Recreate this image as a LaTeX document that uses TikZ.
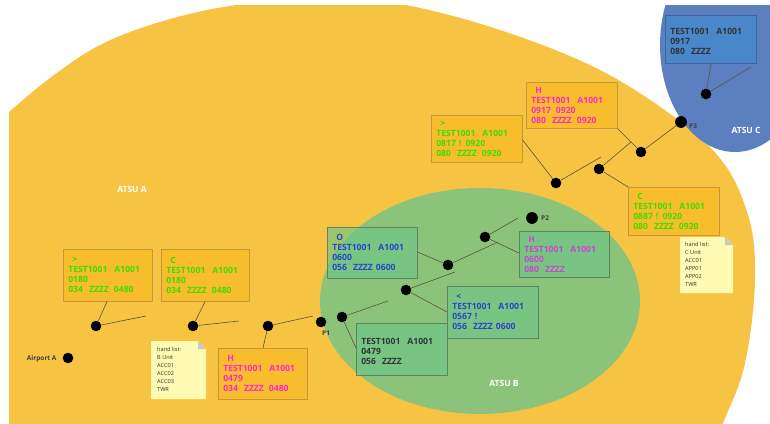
\documentclass[tikz,border=0pt]{standalone}
\usepackage{fontspec}
\newfontfamily\boxfont{Open Sans}
\usetikzlibrary{calc}

\definecolor{zoneA}{RGB}{247,195,66}
\definecolor{zoneB}{RGB}{140,195,122}
\definecolor{zoneC}{RGB}{92,128,191}
\definecolor{orfill}{RGB}{247,189,44}
\definecolor{oredge}{RGB}{196,150,62}
\definecolor{grfill}{RGB}{110,197,135}
\definecolor{gredge}{RGB}{98,128,100}
\definecolor{blfill}{RGB}{74,134,202}
\definecolor{bledge}{RGB}{66,98,160}
\definecolor{notefill}{RGB}{255,251,178}
\definecolor{notefold}{RGB}{200,200,200}
\definecolor{linkcol}{RGB}{92,84,62}
\definecolor{tgreen}{RGB}{60,222,0}
\definecolor{tpink}{RGB}{255,40,200}
\definecolor{tpurple}{RGB}{200,70,210}
\definecolor{tblue}{RGB}{40,70,200}
\definecolor{tdark}{RGB}{50,52,52}
\definecolor{labelcol}{RGB}{64,64,64}

\tikzset{
  flight/.style={anchor=north west, line width=0.6pt, inner xsep=5pt, inner ysep=0pt,
    align=left, font=\boxfont\fontsize{8.6}{10}\selectfont\bfseries},
  obox/.style={flight, fill=orfill, draw=oredge},
  gbox/.style={flight, fill=grfill, fill opacity=0.65, text opacity=1, draw=gredge},
  bbox/.style={flight, fill=blfill, draw=bledge},
  dot/.style={circle, fill=black, inner sep=0pt, minimum size=10.6pt},
  bigdot/.style={dot, minimum size=11.8pt},
  link/.style={draw=linkcol, line width=0.6pt},
  zonelabel/.style={text=white, font=\boxfont\fontsize{8.5}{10}\selectfont\bfseries},
  ptlabel/.style={text=labelcol, font=\boxfont\fontsize{6.5}{8}\selectfont\bfseries},
  notetext/.style={anchor=north west, inner sep=0pt, align=left, text=tdark,
    font=\boxfont\fontsize{5.6}{8}\selectfont},
}

% a note sheet with a folded top-right corner
\newcommand\notesheet[4]{%
  \fill[notefill] (#1,#2) -- (#3-8,#2) -- (#3,#2+8) -- (#3,#4) -- (#1,#4) -- cycle;
  \fill[notefold] (#3-8,#2) -- (#3,#2+8) -- (#3-8,#2+8) -- cycle;
}

\begin{document}
\begin{tikzpicture}[x=1pt,y=-1pt]
\useasboundingbox (0,0) rectangle (770,423);

% ---------- control areas ----------
\begin{scope}
  \clip (9,5) rectangle (770,423);
  \fill[zoneA] plot[smooth, tension=0.6] coordinates {
    (9,112) (50,78) (100,45) (160,22) (230,6) (320,-2) (400,4) (500,30)
    (600,70) (681,122) (725,165) (748,215) (755,262) (752,320) (742,375)
    (723,423) (712,450)} -- (0,450) -- (0,112) -- cycle;
\end{scope}
\fill[zoneB] (480,301) ellipse [x radius=160, y radius=113];
\begin{scope}
  \clip (0,5) rectangle (770,423);
  \fill[zoneC] (735,45) ellipse [x radius=75, y radius=107];
\end{scope}

\node[zonelabel] (atsuA) at (132,189) {ATSU A};
\node[zonelabel] (atsuB) at (504,383) {ATSU B};
\node[zonelabel] (atsuC) at (746,130) {ATSU C};

% ---------- flight data boxes ----------
\node[obox, text=tgreen, text width=79pt, minimum height=52pt] (A1) at (63,249)
  {\hspace*{4pt}>\\TEST1001\hspace{7pt}A1001\\0180\\034\hspace{6pt}ZZZZ\hspace{5pt}0480};
\node[obox, text=tgreen, text width=78pt, minimum height=52pt] (A2) at (161,249)
  {\hspace*{4pt}C\\TEST1001\hspace{7pt}A1001\\0180\\034\hspace{6pt}ZZZZ\hspace{5pt}0480};
\node[obox, text=tpink, text width=79pt, minimum height=51pt] (A3) at (218,348)
  {\hspace*{4pt}H\\TEST1001\hspace{7pt}A1001\\0479\\034\hspace{6pt}ZZZZ\hspace{5pt}0480};

\node[gbox, text=tdark, text width=81pt, minimum height=52pt] (B4) at (356,323)
  {\mbox{}\\TEST1001\hspace{7pt}A1001\\0479\\056\hspace{6pt}ZZZZ};
\node[gbox, text=tblue, text width=81pt, minimum height=52pt] (B5) at (447,286)
  {\hspace*{4pt}<\\TEST1001\hspace{7pt}A1001\\0567 !\\056\hspace{6pt}ZZZZ\hspace{3pt}0600};
\node[gbox, text=tblue, text width=80pt, minimum height=51pt] (B6) at (327,227)
  {\hspace*{4pt}O\\TEST1001\hspace{7pt}A1001\\0600\\056\hspace{6pt}ZZZZ\hspace{3pt}0600};
\node[gbox, text=tpurple, text width=80pt, minimum height=46pt] (B7) at (519,231)
  {\hspace*{4pt}H\\TEST1001\hspace{7pt}A1001\\0600\\080\hspace{6pt}ZZZZ};

\node[obox, text=tgreen, text width=81pt, minimum height=47pt] (C1) at (431,115)
  {\hspace*{4pt}>\\TEST1001\hspace{7pt}A1001\\0817 ! 0920\\080\hspace{6pt}ZZZZ\hspace{5pt}0920};
\node[obox, text=tpink, text width=81pt, minimum height=46pt] (C3) at (526,82)
  {\hspace*{4pt}H\\TEST1001\hspace{7pt}A1001\\0917\hspace{5pt}0920\\080\hspace{6pt}ZZZZ\hspace{5pt}0920};
\node[obox, text=tgreen, text width=81pt, minimum height=48pt] (C2) at (628,187)
  {\hspace*{4pt}C\\TEST1001\hspace{7pt}A1001\\0887 ! 0920\\080\hspace{6pt}ZZZZ\hspace{5pt}0920};

\node[bbox, text=tdark, text width=81pt, minimum height=48pt] (BL) at (665,15)
  {\mbox{}\\TEST1001\hspace{7pt}A1001\\0917\\080\hspace{6pt}ZZZZ};

% ---------- hand-off notes ----------
\notesheet{151}{341}{206}{399}
\node[notetext] (noteB) at (157,347) {hand list:\\B Unit\\ACC01\\ACC02\\ACC03\\TWR};
\notesheet{680}{237}{733}{293}
\node[notetext] (noteC) at (685,242) {hand list:\\C Unit\\ACC01\\APP01\\APP02\\TWR};

% ---------- route points ----------
\node[dot] (air) at (68,358) {};
\node[dot] (d1) at (96,326) {};
\node[dot] (d2) at (193,326) {};
\node[dot] (d3) at (268,326) {};
\node[dot] (p1) at (321,322) {};
\node[dot] (e1) at (342,317) {};
\node[dot] (e2) at (406,290) {};
\node[dot] (e3) at (448,265) {};
\node[dot] (e4) at (485,237) {};
\node[bigdot] (p2) at (532,218) {};
\node[dot] (f1) at (556,183) {};
\node[dot] (f2) at (599,169) {};
\node[dot] (f3) at (641,152) {};
\node[bigdot] (p3) at (681,122) {};
\node[dot] (g1) at (706,94) {};

\node[ptlabel, anchor=east] (airlbl) at (60,359) {Airport A};
\node[ptlabel, anchor=west, inner sep=0pt] (p1lbl) at (322,333) {P1};
\node[ptlabel, anchor=west, inner sep=0pt] (p2lbl) at (541,218) {P2};
\node[ptlabel, anchor=west, inner sep=0pt] (p3lbl) at (689,126) {P3};

% ---------- leader lines and track stubs ----------
\coordinate (s1) at (146,316);
\coordinate (s2) at (239,321);
\coordinate (s3) at (313,316);
\coordinate (s4) at (388,301);
\coordinate (s5) at (455,272);
\coordinate (s6) at (498,242);
\coordinate (s7) at (518,218);
\coordinate (s8) at (601,157);
\coordinate (s9) at (631,142);
\coordinate (s10) at (751,67);

\draw[link] (d1) -- (A1.south west -| 107,0);
\draw[link] (d1) -- (s1);
\draw[link] (d2) -- (A2.south west -| 205,0);
\draw[link] (d2) -- (s2);
\draw[link] (d3) -- (A3.north west -| 263,0);
\draw[link] (d3) -- (s3);
\draw[link] (e1) -- (B4.north west |- 0,348);
\draw[link] (e1) -- (s4);
\draw[link] (e2) -- (B5.north west |- 0,312);
\draw[link] (e2) -- (s5);
\draw[link] (e3) -- (B6.north east |- 0,252);
\draw[link] (e3) -- (s6);
\draw[link] (e4) -- (B7.north west |- 0,253);
\draw[link] (e4) -- (s7);
\draw[link] (f1) -- (C1.north east |- 0,140);
\draw[link] (f1) -- (s8);
\draw[link] (f2) -- (C2.north west);
\draw[link] (f2) -- (s9);
\draw[link] (f3) -- (C3.south east);
\draw[link] (f3) -- (p3);
\draw[link] (g1) -- (BL.south west -| 711,0);
\draw[link] (g1) -- (s10);
\end{tikzpicture}
\end{document}
